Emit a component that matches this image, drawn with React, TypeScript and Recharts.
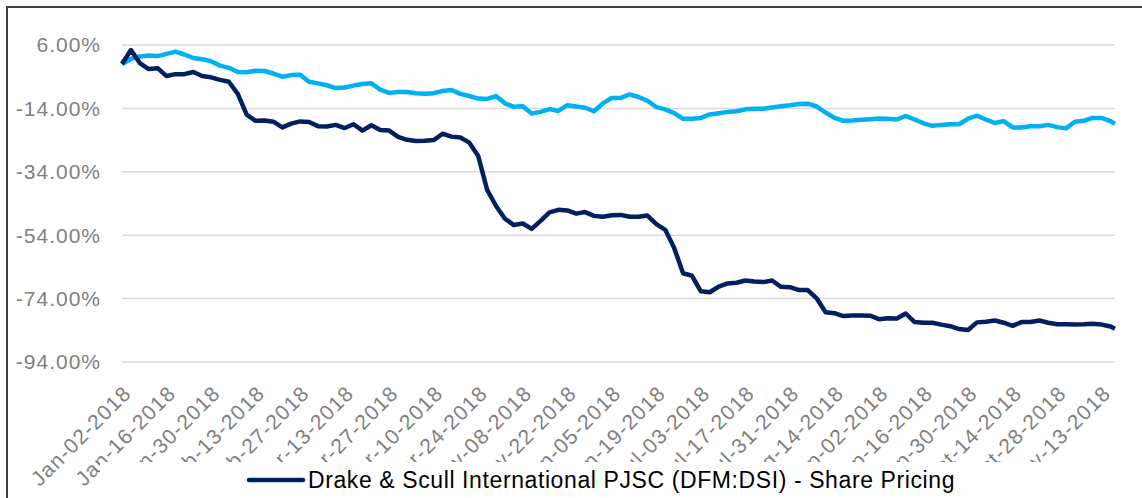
import { LineChart, Line, XAxis, YAxis, CartesianGrid, Legend } from 'recharts';

const TICK_LABELS = [
  'Jan-02-2018', 'Jan-16-2018', 'Jan-30-2018', 'Feb-13-2018', 'Feb-27-2018', 'Mar-13-2018',
  'Mar-27-2018', 'Apr-10-2018', 'Apr-24-2018', 'May-08-2018', 'May-22-2018', 'Jun-05-2018',
  'Jun-19-2018', 'Jul-03-2018', 'Jul-17-2018', 'Jul-31-2018', 'Aug-14-2018', 'Sep-02-2018',
  'Sep-16-2018', 'Sep-30-2018', 'Oct-14-2018', 'Oct-28-2018', 'Nov-13-2018',
];
// x is counted in trading days: a label every 10 days, a sample every 2 days, last sample on day 223
const DAYS_PER_LABEL = 10;
const SAMPLE_STEP = 2;
const LAST_DAY = 223;

const Y_TICKS = [6, -14, -34, -54, -74, -94];

const DSI_NAME = 'Drake & Scull International PJSC (DFM:DSI) - Share Pricing';
const DSI = [
  0, 4.4, 0.3, -1.6, -1.3, -3.8, -3.2, -3.2, -2.5, -3.8,
  -4.2, -5.0, -5.6, -9.4, -16.0, -17.9, -17.8, -18.2, -20.0, -18.8,
  -18.1, -18.3, -19.6, -19.7, -19.2, -20.2, -19.0, -21.0, -19.3, -20.8,
  -21.0, -23.0, -23.9, -24.3, -24.2, -24.0, -22.0, -22.9, -23.2, -24.8,
  -29.0, -39.7, -44.8, -48.8, -50.8, -50.3, -52.0, -49.5, -46.8, -46.0,
  -46.2, -47.2, -46.7, -47.9, -48.2, -47.7, -47.6, -48.2, -48.2, -47.8,
  -50.5, -52.3, -58.0, -66.0, -66.8, -71.7, -72.0, -70.2, -69.2, -69.0,
  -68.3, -68.6, -68.8, -68.3, -70.3, -70.4, -71.3, -71.3, -73.9, -78.3,
  -78.6, -79.5, -79.3, -79.3, -79.4, -80.5, -80.2, -80.3, -78.7, -81.4,
  -81.6, -81.6, -82.2, -82.7, -83.6, -83.9, -81.5, -81.3, -80.9, -81.6,
  -82.6, -81.4, -81.4, -80.9, -81.6, -82.1, -82.1, -82.2, -82.1, -81.9,
  -82.2, -82.8, -83.5,
];

const BENCH_NAME = 'Benchmark';
const BENCH = [
  0, 1.6, 2.4, 2.7, 2.5, 3.2, 3.9, 3.0, 1.9, 1.5,
  0.9, -0.5, -1.2, -2.5, -2.6, -2.1, -2.2, -3.0, -4.0, -3.5,
  -3.4, -5.6, -6.1, -6.7, -7.6, -7.4, -6.8, -6.3, -6.1, -8.1,
  -9.1, -8.8, -8.8, -9.2, -9.4, -9.2, -8.5, -8.2, -9.4, -10.1,
  -10.9, -11.0, -10.1, -12.4, -13.5, -13.3, -15.6, -15.1, -14.2, -14.8,
  -13.0, -13.4, -13.8, -14.9, -12.4, -10.7, -10.7, -9.6, -10.4, -11.6,
  -13.6, -14.3, -15.5, -17.3, -17.3, -17.0, -15.9, -15.5, -15.1, -14.9,
  -14.3, -14.1, -14.1, -13.7, -13.3, -13.0, -12.6, -12.5, -13.4, -15.3,
  -17.0, -17.9, -17.8, -17.6, -17.4, -17.2, -17.3, -17.5, -16.4, -17.5,
  -18.7, -19.5, -19.2, -19.0, -19.0, -17.2, -16.3, -17.5, -18.6, -18.0,
  -20.0, -20.0, -19.6, -19.6, -19.2, -19.9, -20.3, -18.2, -17.9, -17.0,
  -17.0, -18.0, -18.9,
];

const FONT = 'Arial, "Liberation Sans", sans-serif';
const NAVY = '#002060';
const SKY = '#00b0f0';

const data = DSI.map((v, i) => ({
  day: i === DSI.length - 1 ? LAST_DAY : i * SAMPLE_STEP,
  dsi: v,
  bench: BENCH[i],
}));
const xTicks = TICK_LABELS.map((_, k) => k * DAYS_PER_LABEL);

function LegendBox({ payload }: any) {
  const items = (payload || []).filter((p: any) => p.type !== 'none');
  return (
    <div style={{ display: 'flex', alignItems: 'center', height: 36, paddingLeft: 146 }}>
      {items.map((p: any) => (
        <div key={p.value} style={{ display: 'flex', alignItems: 'center' }}>
          <svg width={60} height={10}>
            <line x1={3} y1={5} x2={57} y2={5} stroke={p.color} strokeWidth={4.5} strokeLinecap="round" />
          </svg>
          <span style={{ fontSize: 23, color: '#000', marginLeft: 2, letterSpacing: 0.6, fontFamily: FONT }}>
            {p.value}
          </span>
        </div>
      ))}
    </div>
  );
}

export default function App() {
  return (
    <div style={{ position: 'absolute', left: 0, top: 0, width: 1142, height: 498, overflow: 'hidden', background: '#fff', fontFamily: FONT }}>
      <LineChart width={1142} height={498} data={data} margin={{ top: 45, right: 27, bottom: 40, left: 0 }}>
        <CartesianGrid vertical={false} stroke="#d9d9d9" strokeWidth={1.5} />
        <XAxis
          dataKey="day"
          type="number"
          domain={[0, LAST_DAY]}
          ticks={xTicks}
          interval={0}
          tickFormatter={(v: number) => TICK_LABELS[Math.round(v / DAYS_PER_LABEL)]}
          axisLine={false}
          tickLine={false}
          angle={-45}
          textAnchor="end"
          height={60}
          tickMargin={16}
          tick={{ fill: '#7f7f7f', fontSize: 21, letterSpacing: 1.2, fontFamily: FONT }}
        />
        <YAxis
          domain={[-94, 6]}
          ticks={Y_TICKS}
          interval={0}
          tickFormatter={(v: number) => `${v.toFixed(2)}%`}
          axisLine={false}
          tickLine={false}
          width={122}
          tickMargin={15}
          tick={{ fill: '#7f7f7f', fontSize: 21, letterSpacing: 1, fontFamily: FONT }}
        />
        <Legend
          content={LegendBox}
          wrapperStyle={{ left: 100, top: 462, width: 1000, height: 36, background: '#fff' }}
        />
        <Line
          type="linear"
          dataKey="bench"
          name={BENCH_NAME}
          stroke={SKY}
          strokeWidth={4.5}
          dot={false}
          legendType="none"
          strokeLinejoin="round"
          isAnimationActive={false}
        />
        <Line
          type="linear"
          dataKey="dsi"
          name={DSI_NAME}
          stroke={NAVY}
          strokeWidth={4.5}
          dot={false}
          strokeLinejoin="round"
          isAnimationActive={false}
        />
      </LineChart>
      <div style={{ position: 'absolute', left: 6, top: 6, width: 1200, height: 600, border: '2px solid #3f3f3f', pointerEvents: 'none' }} />
    </div>
  );
}
